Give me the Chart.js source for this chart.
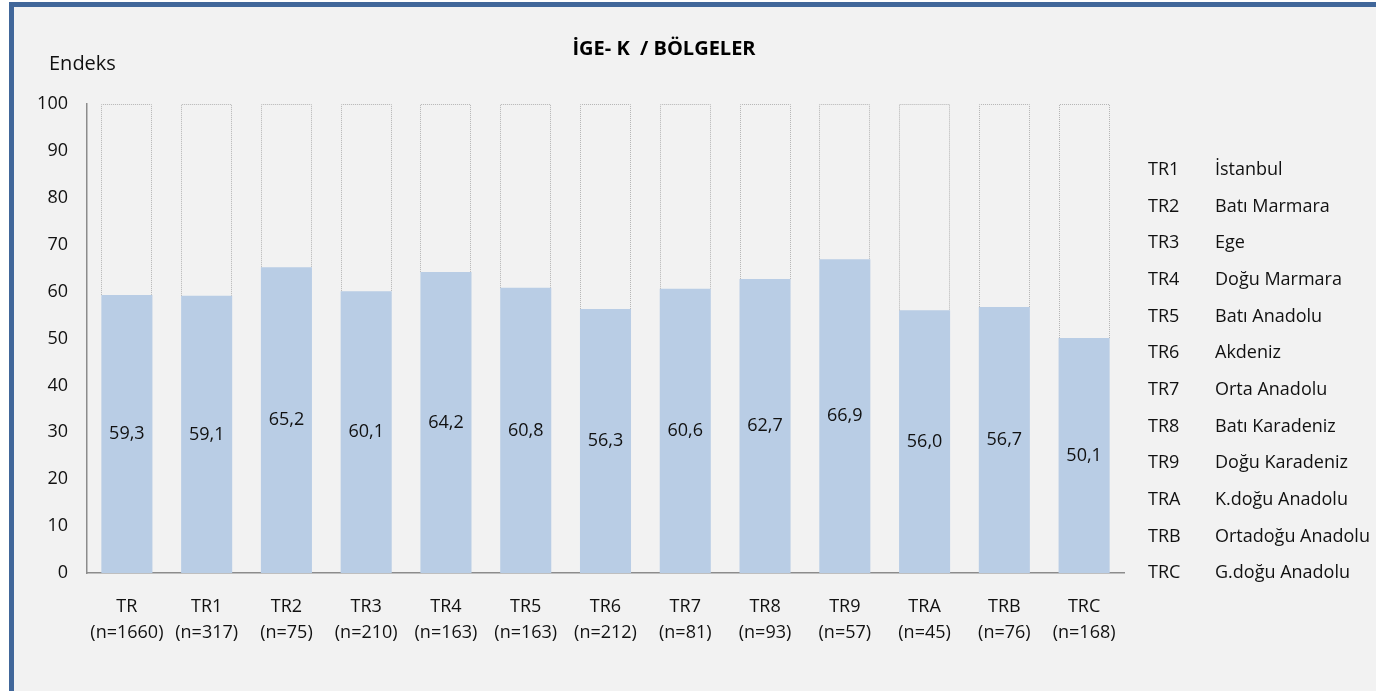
<!DOCTYPE html>
<html>
<head>
<meta charset="utf-8">
<script src="https://cdn.jsdelivr.net/npm/chart.js@4"></script>
<style>
  body { margin: 0; background: #ffffff; }
  #frame {
    position: absolute; left: 9px; top: 2px; right: 0; bottom: 0;
    border-left: 5px solid #41679a; border-top: 5px solid #41679a;
    background: #f2f2f2;
  }
  #wrap { position: absolute; left: 0; top: 0; width: 1376px; height: 691px; }
</style>
</head>
<body>
<div id="frame"></div>
<div id="wrap"><canvas id="igeChart" width="1376" height="691"></canvas></div>
<script>
// bölge kodları ve örneklem sayıları
const regions = ["TR", "TR1", "TR2", "TR3", "TR4", "TR5", "TR6", "TR7", "TR8", "TR9", "TRA", "TRB", "TRC"];
const sampleSizes = ["(n=1660)", "(n=317)", "(n=75)", "(n=210)", "(n=163)", "(n=163)", "(n=212)", "(n=81)", "(n=93)", "(n=57)", "(n=45)", "(n=76)", "(n=168)"];
const indexValues = [59.3, 59.1, 65.2, 60.1, 64.2, 60.8, 56.3, 60.6, 62.7, 66.9, 56.0, 56.7, 50.1];
const yTicks = [0, 10, 20, 30, 40, 50, 60, 70, 80, 90, 100];

// sağdaki açıklama
const legendCodes = ["TR1", "TR2", "TR3", "TR4", "TR5", "TR6", "TR7", "TR8", "TR9", "TRA", "TRB", "TRC"];
const legendNames = ["İstanbul", "Batı Marmara", "Ege", "Doğu Marmara", "Batı Anadolu", "Akdeniz", "Orta Anadolu", "Batı Karadeniz", "Doğu Karadeniz", "K.doğu Anadolu", "Ortadoğu Anadolu", "G.doğu Anadolu"];

const FONT = "'Open Sans', 'Noto Sans', sans-serif";
const TEXT = "#111111";

const labels = regions.map((r, i) => [r, sampleSizes[i]]);
const maxVal = yTicks[yTicks.length - 1];
const remainder = indexValues.map((v) => maxVal - v);

const extrasPlugin = {
  id: "extras",
  afterDatasetsDraw(chart) {
    const ctx = chart.ctx;
    ctx.save();

    // kalan kısım için noktalı çerçeve
    const rest = chart.getDatasetMeta(1);
    ctx.strokeStyle = "#b4b4b4";
    ctx.lineWidth = 1;
    ctx.setLineDash([1, 1]);
    rest.data.forEach((bar) => {
      const p = bar.getProps(["x", "y", "base", "width"], true);
      const l = Math.round(p.x - p.width / 2) + 0.5;
      const r = Math.round(p.x + p.width / 2) - 0.5;
      const t = Math.round(p.y) + 0.5;
      ctx.beginPath();
      ctx.moveTo(l, p.base);
      ctx.lineTo(l, t);
      ctx.lineTo(r, t);
      ctx.lineTo(r, p.base);
      ctx.stroke();
    });
    ctx.setLineDash([]);

    // değer etiketleri
    const meta = chart.getDatasetMeta(0);
    ctx.fillStyle = TEXT;
    ctx.font = "18px " + FONT;
    ctx.textAlign = "center";
    ctx.textBaseline = "middle";
    meta.data.forEach((bar, i) => {
      const p = bar.getProps(["x", "y", "base"], true);
      ctx.fillText(indexValues[i].toFixed(1).replace(".", ","), p.x, (p.y + p.base) / 2);
    });

    // başlık ve eksen adı
    ctx.fillStyle = "#000000";
    ctx.font = "bold 20px " + FONT;
    ctx.fillText("İGE- K  / BÖLGELER", 664, 49);
    ctx.fillStyle = TEXT;
    ctx.font = "20px " + FONT;
    ctx.textAlign = "left";
    ctx.fillText("Endeks", 49, 64);

    // açıklama
    ctx.font = "18px " + FONT;
    legendCodes.forEach((code, i) => {
      const y = 170 + i * 36.64;
      ctx.fillText(code, 1148, y);
      ctx.fillText(legendNames[i], 1215, y);
    });
    ctx.restore();
  },
};

const ctx = document.getElementById("igeChart").getContext("2d");
const igeChart = new Chart(ctx, {
  type: "bar",
  data: {
    labels: labels,
    datasets: [
      {
        label: "Endeks",
        data: indexValues,
        backgroundColor: "#b9cde5",
        borderWidth: 0,
        barPercentage: 0.64,
        categoryPercentage: 1,
      },
      {
        label: "Kalan",
        data: remainder,
        backgroundColor: "rgba(0,0,0,0)",
        borderWidth: 0,
        barPercentage: 0.64,
        categoryPercentage: 1,
      },
    ],
  },
  options: {
    responsive: false,
    animation: false,
    layout: { padding: { top: 104, right: 252, left: 0, bottom: 0 } },
    plugins: {
      legend: { display: false },
      tooltip: { enabled: false },
    },
    scales: {
      x: {
        stacked: true,
        grid: { display: false, drawTicks: false },
        border: { display: true, color: "#8c8c8c", width: 1.5 },
        ticks: {
          color: TEXT,
          font: { family: FONT, size: 18, lineHeight: 26 / 18 },
          padding: 21,
          maxRotation: 0,
          autoSkip: false,
        },
        afterFit: (scale) => { scale.height = 118; },
      },
      y: {
        stacked: true,
        min: 0,
        max: maxVal,
        afterBuildTicks: (scale) => { scale.ticks = yTicks.map((v) => ({ value: v })); },
        grid: { display: false, drawTicks: false },
        border: { display: true, color: "#8c8c8c", width: 1.5 },
        ticks: {
          color: TEXT,
          font: { family: FONT, size: 18 },
          padding: 19,
        },
        afterFit: (scale) => { scale.width = 87; },
      },
    },
  },
  plugins: [extrasPlugin],
});
</script>
</body>
</html>
